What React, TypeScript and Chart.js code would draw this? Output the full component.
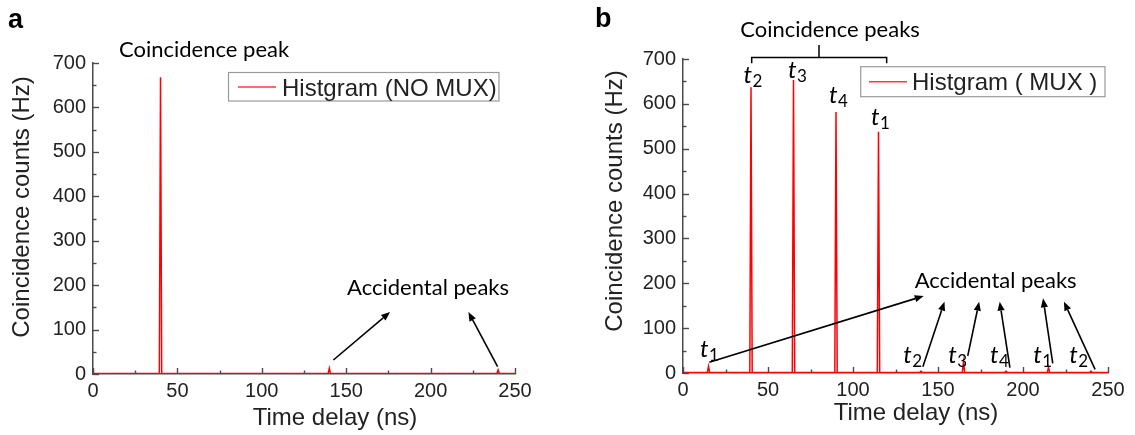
import React, { useEffect, useRef } from "react";
import { Chart, registerables } from "chart.js";

Chart.register(...registerables);

// ---------------- data ----------------
const noMuxTime = [0, 10, 20, 30, 39.3, 40, 40.7, 50, 60, 70, 80, 90, 100, 110, 120, 130, 139.3, 140, 140.7, 150, 160, 170, 180, 190, 200, 210, 220, 230, 239.3, 240, 240.7, 250];
const noMuxCounts = [1, 1, 1, 1, 1, 668, 1, 1, 1, 1, 1, 1, 1, 1, 1, 1, 1, 13, 1, 1, 1, 1, 1, 1, 1, 1, 1, 1, 1, 9, 1, 1];

const muxTime = [0, 10, 14.3, 15, 15.7, 25, 39.3, 40, 40.7, 50, 64.3, 65, 65.7, 75, 89.3, 90, 90.7, 100, 114.3, 115, 115.7, 125, 139.3, 140, 140.7, 150, 164.3, 165, 165.7, 175, 189.3, 190, 190.7, 200, 214.3, 215, 215.7, 225, 239.3, 240, 240.7, 250];
const muxCounts = [1, 1, 1, 15, 1, 1, 1, 637, 1, 1, 1, 653, 1, 1, 1, 582, 1, 1, 1, 538, 1, 1, 1, 4, 1, 1, 1, 25, 1, 1, 1, 4, 1, 1, 1, 13, 1, 1, 1, 4, 1, 1];

const xTickLabels = ["0", "50", "100", "150", "200", "250"];
const yTickLabels = ["0", "100", "200", "300", "400", "500", "600", "700"];

// annotation anchors in data units [x1, y1, x2(head), y2(head)]
const noMuxArrows = [
  [142.4, 31.5, 176, 139.5],
  [239.7, 16.4, 222.4, 139.5],
];
const muxArrows = [
  [15.5, 24.1, 141.6, 171.7],
  [141.1, 14, 153.8, 159],
  [167.5, 38, 174.2, 159],
  [192.3, 11.8, 186.3, 159],
  [217.5, 21.6, 211.8, 166.5],
  [242.4, 8.2, 224.1, 159],
];
const muxPeakSubs = ["2", "3", "4", "1", "1", "2", "3", "4", "1", "2"];
const muxPeakLabelX = [35.6, 61.8, 85.9, 110.6, 10, 129.6, 156, 180.6, 206, 227.2];
const muxPeakLabelY = [646, 657.6, 602, 552.8, 36.4, 22.3, 22.3, 22.3, 22.3, 22.3];

// ---------------- styles ----------------
const SANS = "'Liberation Sans', Arial, sans-serif";
const CAL = "Lato, 'Open Sans', sans-serif";
const AXIS = "#4a4a4a";
const TEXT = "#222";
const RED = "#ff0000";

type Panel = {
  width: number;
  letter: string;
  letterX: number;
  letterY: number;
  time: number[];
  counts: number[];
  legendText: string;
  legendBox: [number, number, number, number];
  legendLine: [number, number, number];
  legendTextPos: [number, number];
  padTop: number;
  padRight: number;
  yWidth: number;
  xHeight: number;
  yTitlePos: [number, number];
  xTitlePos: [number, number];
  arrows: number[][];
  accText: [number, number];
  coinText: string;
  coinPos: [number, number];
  bracket?: { x1: number; x2: number; xm: number; y: number; yTip: number; yTop: number };
  peakLabels?: boolean;
};

const leftPanel: Panel = {
  width: 567,
  letter: "a",
  letterX: 8,
  letterY: 28,
  time: noMuxTime,
  counts: noMuxCounts,
  legendText: "Histgram (NO MUX)",
  legendBox: [228.5, 72.5, 270.5, 28.5],
  legendLine: [238, 276, 87],
  legendTextPos: [282, 95.5],
  padTop: 63,
  padRight: 52,
  yWidth: 93,
  xHeight: 61,
  yTitlePos: [29, 207],
  xTitlePos: [335, 425],
  arrows: noMuxArrows,
  accText: [198.5, 177.8],
  coinText: "Coincidence peak",
  coinPos: [65.8, 713.5],
};

const rightPanel: Panel = {
  width: 568,
  letter: "b",
  letterX: 28,
  letterY: 27,
  time: muxTime,
  counts: muxCounts,
  legendText: "Histgram ( MUX )",
  legendBox: [293.7, 66.7, 244.3, 30],
  legendLine: [302, 340, 81.7],
  legendTextPos: [345, 90],
  padTop: 59,
  padRight: 27,
  yWidth: 116,
  xHeight: 62,
  yTitlePos: [54.5, 201],
  xTitlePos: [349, 420],
  arrows: muxArrows,
  accText: [183.9, 189.5],
  coinText: "Coincidence peaks",
  coinPos: [86.5, 748],
  bracket: { x1: 40.4, x2: 119.8, xm: 80, y: 703.6, yTip: 690.3, yTop: 731 },
  peakLabels: true,
};

function drawArrow(ctx: CanvasRenderingContext2D, x1: number, y1: number, x2: number, y2: number) {
  const ang = Math.atan2(y2 - y1, x2 - x1);
  const len = 9;
  const half = 3.6;
  const bx = x2 - Math.cos(ang) * len;
  const by = y2 - Math.sin(ang) * len;
  ctx.beginPath();
  ctx.moveTo(x1, y1);
  ctx.lineTo(bx, by);
  ctx.stroke();
  ctx.beginPath();
  ctx.moveTo(x2, y2);
  ctx.lineTo(bx + Math.sin(ang) * half, by - Math.cos(ang) * half);
  ctx.lineTo(bx - Math.sin(ang) * half, by + Math.cos(ang) * half);
  ctx.closePath();
  ctx.fill();
}

function makePlugin(p: Panel) {
  return {
    id: "annot" + p.letter,
    afterDraw(chart: any) {
      const ctx: CanvasRenderingContext2D = chart.ctx;
      const xs = chart.scales.x;
      const ys = chart.scales.y;
      const X = (v: number) => xs.getPixelForValue(v);
      const Y = (v: number) => ys.getPixelForValue(v);
      const { left, bottom } = chart.chartArea;
      ctx.save();

      // inward tick marks
      ctx.strokeStyle = AXIS;
      ctx.lineWidth = 1.4;
      xs.ticks.forEach((t: any) => {
        const major = xTickLabels.includes(String(t.value));
        const px = Math.round(X(t.value)) + 0.5;
        ctx.beginPath();
        ctx.moveTo(px, bottom);
        ctx.lineTo(px, bottom - (major ? 6 : 3.5));
        ctx.stroke();
      });
      ys.ticks.forEach((t: any) => {
        const major = yTickLabels.includes(String(t.value));
        const py = Math.round(Y(t.value)) + 0.5;
        ctx.beginPath();
        ctx.moveTo(left, py);
        ctx.lineTo(left + (major ? 6 : 3.5), py);
        ctx.stroke();
      });

      // panel letter
      ctx.fillStyle = "#000";
      ctx.font = `bold 27px ${SANS}`;
      ctx.textAlign = "left";
      ctx.textBaseline = "alphabetic";
      ctx.fillText(p.letter, p.letterX, p.letterY);

      // axis titles
      ctx.fillStyle = TEXT;
      ctx.font = `24px ${SANS}`;
      ctx.textAlign = "center";
      ctx.fillText("Time delay (ns)", p.xTitlePos[0], p.xTitlePos[1]);
      ctx.save();
      ctx.translate(p.yTitlePos[0], p.yTitlePos[1]);
      ctx.rotate(-Math.PI / 2);
      ctx.fillText("Coincidence counts (Hz)", 0, 0);
      ctx.restore();

      // legend
      const [bx, by, bw, bh] = p.legendBox;
      ctx.fillStyle = "#fff";
      ctx.fillRect(bx, by, bw, bh);
      ctx.strokeStyle = "#9a9a9a";
      ctx.lineWidth = 1.2;
      ctx.strokeRect(bx, by, bw, bh);
      ctx.strokeStyle = "#ff3b3b";
      ctx.lineWidth = 1.6;
      ctx.beginPath();
      ctx.moveTo(p.legendLine[0], p.legendLine[2]);
      ctx.lineTo(p.legendLine[1], p.legendLine[2]);
      ctx.stroke();
      ctx.fillStyle = TEXT;
      ctx.font = `24px ${SANS}`;
      ctx.textAlign = "left";
      ctx.fillText(p.legendText, p.legendTextPos[0], p.legendTextPos[1]);

      // annotations
      ctx.fillStyle = "#000";
      ctx.strokeStyle = "#000";
      ctx.lineWidth = 1.6;
      ctx.font = `22px ${CAL}`;
      ctx.textAlign = "center";
      ctx.fillText(p.coinText, X(p.coinPos[0]), Y(p.coinPos[1]));
      ctx.fillText("Accidental peaks", X(p.accText[0]), Y(p.accText[1]));
      p.arrows.forEach((a) => drawArrow(ctx, X(a[0]), Y(a[1]), X(a[2]), Y(a[3])));

      if (p.bracket) {
        const b = p.bracket;
        ctx.lineWidth = 1.5;
        ctx.beginPath();
        ctx.moveTo(X(b.x1), Y(b.yTip));
        ctx.lineTo(X(b.x1), Y(b.y));
        ctx.lineTo(X(b.x2), Y(b.y));
        ctx.lineTo(X(b.x2), Y(b.yTip));
        ctx.moveTo(X(b.xm), Y(b.y));
        ctx.lineTo(X(b.xm), Y(b.yTop));
        ctx.stroke();
      }

      if (p.peakLabels) {
        ctx.textAlign = "left";
        muxPeakSubs.forEach((s, i) => {
          const lx = X(muxPeakLabelX[i]);
          const ly = Y(muxPeakLabelY[i]);
          ctx.font = `italic 24px ${CAL}`;
          ctx.fillText("t", lx, ly);
          const w = ctx.measureText("t").width;
          ctx.font = `17px ${CAL}`;
          ctx.fillText(s, lx + w + 0.5, ly + 4);
        });
      }
      ctx.restore();
    },
  };
}

function makeConfig(p: Panel): any {
  return {
    type: "line",
    data: {
      datasets: [
        {
          label: p.legendText,
          data: p.time.map((t, i) => ({ x: t, y: p.counts[i] })),
          borderColor: RED,
          borderWidth: 1.5,
          pointRadius: 0,
          tension: 0,
          fill: false,
        },
      ],
    },
    options: {
      responsive: false,
      animation: false,
      events: [],
      layout: { padding: { top: p.padTop, right: p.padRight, bottom: 0, left: 0 } },
      plugins: { legend: { display: false }, tooltip: { enabled: false } },
      scales: {
        x: {
          type: "linear",
          min: 0,
          max: 250,
          grid: { display: true, drawOnChartArea: false, drawTicks: false },
          border: { display: true, color: AXIS, width: 1.5 },
          ticks: {
            stepSize: 25,
            autoSkip: false,
            maxRotation: 0,
            padding: 5,
            color: TEXT,
            font: { family: SANS, size: 20 },
            callback: (v: number) => (xTickLabels.includes(String(v)) ? String(v) : ""),
          },
          afterFit: (s: any) => {
            s.height = p.xHeight;
          },
        },
        y: {
          type: "linear",
          min: 0,
          max: 700,
          grid: { display: true, drawOnChartArea: false, drawTicks: false },
          border: { display: true, color: AXIS, width: 1.5 },
          ticks: {
            stepSize: 50,
            autoSkip: false,
            padding: 7,
            color: TEXT,
            font: { family: SANS, size: 20 },
            callback: (v: number) => (yTickLabels.includes(String(v)) ? String(v) : ""),
          },
          afterFit: (s: any) => {
            s.width = p.yWidth;
          },
        },
      },
    },
    plugins: [makePlugin(p)],
  };
}

function PanelChart({ panel }: { panel: Panel }) {
  const ref = useRef<HTMLCanvasElement>(null);
  useEffect(() => {
    const chart = new Chart(ref.current as HTMLCanvasElement, makeConfig(panel));
    return () => chart.destroy();
  }, [panel]);
  return (
    <canvas
      ref={ref}
      width={panel.width}
      height={435}
      style={{ display: "block", width: panel.width, height: 435 }}
    />
  );
}

export default function App() {
  return (
    <div
      style={{
        position: "absolute",
        left: 0,
        top: 0,
        width: 1135,
        height: 435,
        display: "flex",
        background: "#fff",
      }}
    >
      <PanelChart panel={leftPanel} />
      <PanelChart panel={rightPanel} />
    </div>
  );
}
